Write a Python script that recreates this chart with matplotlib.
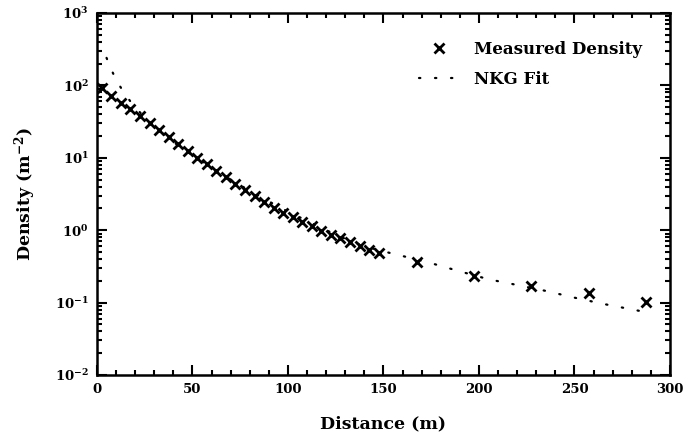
"""Lateral density profile with NKG fit."""

import matplotlib
matplotlib.use("Agg")
import matplotlib.pyplot as plt
from matplotlib.ticker import LogLocator, MultipleLocator, LogFormatterMathtext

# measured lateral density (m^-2)
distance = [2.5, 7.5, 12.5, 17.5, 22.5, 27.5, 32.5, 37.5, 42.5, 47.5,
            52.5, 57.5, 62.5, 67.5, 72.5, 77.5, 82.5, 87.5, 92.5, 97.5,
            102.5, 107.5, 112.5, 117.5, 122.5, 127.5, 132.5, 137.5, 142.5, 147.5,
            167.5, 197.5, 227.5, 257.5, 287.5]
density = [91, 72, 58, 47, 37.5, 30, 24, 19.3, 15.5, 12.3,
           9.9, 8.2, 6.6, 5.4, 4.4, 3.6, 2.95, 2.45, 2.05, 1.75,
           1.5, 1.3, 1.13, 0.99, 0.87, 0.77, 0.68, 0.61, 0.54, 0.49,
           0.367, 0.233, 0.169, 0.134, 0.101]

# NKG fit
fit_r = [5, 7.5, 10, 12.5, 15, 17.5, 20, 25, 30, 40, 50, 60, 70, 80, 90,
         100, 110, 120, 130, 140, 150, 160, 175, 190, 205, 220, 235, 250,
         265, 285]
fit_density = [240, 165, 120, 93, 74, 60, 50, 36, 27, 16.5, 10.8, 7.3, 5.0,
               3.5, 2.5, 1.8, 1.35, 1.0, 0.76, 0.6, 0.51, 0.44, 0.35, 0.27,
               0.21, 0.175, 0.145, 0.117, 0.096, 0.076]

plt.rcParams["font.family"] = "DejaVu Serif"
plt.rcParams["font.weight"] = "bold"
plt.rcParams["mathtext.fontset"] = "dejavuserif"

fig = plt.figure(figsize=(6.85, 4.42), dpi=100)
ax = fig.add_axes([0.1416, 0.1516, 0.8364, 0.819])

ax.plot(distance, density, linestyle="none", marker="x", color="black",
        markersize=7, markeredgewidth=2.0, label="Measured Density")
ax.plot(fit_r, fit_density, color="black", linewidth=1.6,
        linestyle=(0, (0.6, 6.6)), dash_capstyle="round", label="NKG Fit")

ax.set_yscale("log")
ax.set_xlim(0, 300)
ax.set_ylim(1e-2, 1e3)
ax.xaxis.set_major_locator(MultipleLocator(50))
ax.xaxis.set_minor_locator(MultipleLocator(10))
ax.yaxis.set_major_locator(LogLocator(base=10, numticks=10))
ax.yaxis.set_minor_locator(LogLocator(base=10, subs=range(2, 10), numticks=20))
ax.yaxis.set_major_formatter(LogFormatterMathtext())

ax.tick_params(which="both", direction="in", top=True, right=True,
               width=1.5, labelsize=9.5, pad=6)
ax.tick_params(which="major", length=7)
ax.tick_params(which="minor", length=3.5)
for spine in ax.spines.values():
    spine.set_linewidth(1.8)

ax.set_xlabel("Distance (m)", fontsize=12.5, fontweight="bold", labelpad=14)
ax.set_ylabel("Density (m$^{-2}$)", fontsize=12.5, fontweight="bold", labelpad=12)

ax.legend(loc="upper right", frameon=False, fontsize=12, handlelength=2.4,
          labelspacing=0.75, borderaxespad=1.3, handletextpad=0.9)

fig.savefig("out.png", dpi=100)
